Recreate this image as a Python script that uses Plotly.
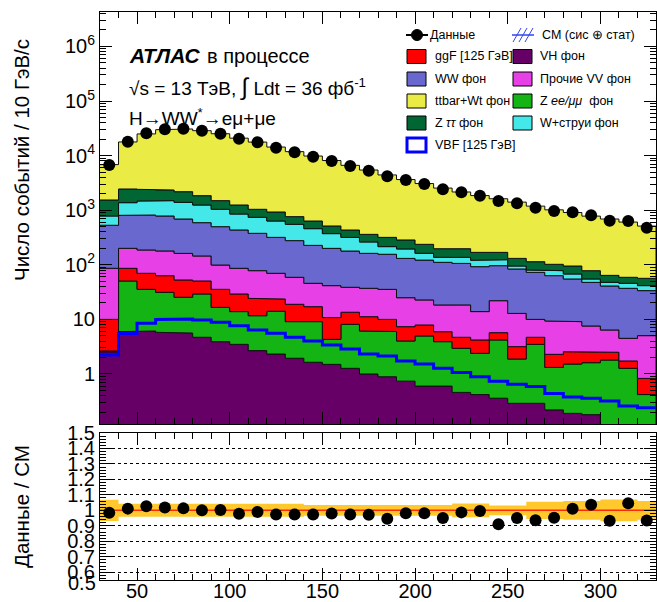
import numpy as np
import plotly.graph_objects as go

# ---------------- data ----------------
bin_edges = [30, 40, 50, 60, 70, 80, 90, 100, 110, 120, 130, 140, 150, 160, 170, 180,
             190, 200, 210, 220, 230, 240, 250, 260, 270, 280, 290, 300, 310, 320, 330]

data = [6730, 17980, 25600, 30300, 31100, 28600, 25200, 20400, 17500, 13960,
        11490, 9550, 7960, 6450, 5290, 4180, 3570, 3020, 2415, 2128,
        1845, 1474, 1337, 1112, 967, 916, 807, 643, 634, 478]

vh = [2.55, 5.96, 6.13, 5.8, 5.63, 4.7, 3.91, 3.49, 2.68, 2.32,
      1.94, 1.64, 1.50, 1.27, 1.0, 0.89, 0.74, 0.60, 0.60, 0.46,
      0.42, 0.36, 0.29, 0.29, 0.22, 0.19, 0.18, 0, 0, 0]
zll = [0.09, 44.5, 29.4, 25.5, 19.8, 24.5, 12.7, 10.4, 9.0, 11.8,
       7.16, 7.46, 2.81, 6.85, 5.13, 5.11, 3.28, 4.37, 3.31, 2.49,
       1.97, 3.84, 1.59, 3.2, 1.10, 1.33, 1.43, 1.80, 1.27, 0.42]
ggf = [7.36, 35.7, 34.3, 31.9, 27.3, 21.3, 18.9, 15.3, 12.6, 9.5,
       9.8, 8.0, 6.5, 5.4, 5.07, 4.0, 3.34, 2.93, 2.05, 1.75,
       1.81, 1.51, 1.29, 1.21, 0.97, 1.04, 0.92, 0.7, 0.46, 0.41]
vv = [76.2, 114, 117, 116, 109, 94.5, 63.5, 57, 53.8, 46.2,
      40.1, 28.7, 30.7, 25.2, 25.9, 25.5, 17.6, 14.8, 12.4, 13.7,
      9.7, 16.3, 9.7, 5.3, 7.06, 6.54, 5.04, 3.9, 2.77, 4.21]
ww = [443, 605, 630, 604, 528, 446, 400, 348, 299, 248,
      218, 181, 158.5, 140, 125, 120.5, 106, 99.3, 92.6, 87.6,
      78.5, 74.4, 70.9, 62.8, 53.9, 45.9, 40.1, 34.5, 32.6, 28.6]
wjets = [254, 569, 657, 713, 703, 654, 539, 417, 363, 316,
         274, 232, 172, 139, 100, 59, 64, 40, 26, 31,
         28.6, 27.6, 11.2, 7.5, 14.8, 12.9, 7.3, 6.8, 8.7, 7.9]
ztt = [755, 1071, 938, 848, 790, 600, 458, 394, 298, 293,
       211, 175, 142, 116, 99, 103, 90, 75, 60, 60,
       48, 45, 36, 33.7, 24, 27.1, 23, 16.3, 13.2, 15]
ttbar = [5300, 15335, 22520, 27420, 28520, 26755, 23650, 19615, 16650, 13420,
         11050, 9180, 7606, 6196, 5079, 4102, 3355, 2838, 2343, 1959,
         1683, 1451, 1275, 1073, 913, 811, 701, 625, 547, 455]
vbf = [2.23, 5.5, 8.47, 10, 10.2, 9.75, 8.84, 7.68, 6.4, 5.56,
       4.7, 4.02, 3.4, 2.87, 2.32, 2.14, 1.73, 1.52, 1.27, 1.06,
       0.89, 0.74, 0.65, 0.59, 0.44, 0.38, 0.36, 0.32, 0.26, 0.24]
syst_rel = [0.068, 0.042, 0.042, 0.042, 0.042, 0.042, 0.042, 0.042, 0.042, 0.042,
            0.042, 0.035, 0.035, 0.035, 0.035, 0.035, 0.035, 0.035, 0.035, 0.045,
            0.045, 0.032, 0.032, 0.055, 0.055, 0.06, 0.06, 0.07, 0.07, 0.06]

log_ticks = [1, 10, 100, 1e3, 1e4, 1e5, 1e6]
log_ticktext = ["1", "10", "10<sup>2</sup>", "10<sup>3</sup>", "10<sup>4</sup>",
                "10<sup>5</sup>", "10<sup>6</sup>"]
ratio_ticks = [0.6, 0.7, 0.8, 0.9, 1.0, 1.1, 1.2, 1.3, 1.4, 1.5]
ratio_ticktext = ["0.6", "0.7", "0.8", "0.9", "1", "1.1", "1.2", "1.3", "1.4", "1.5"]

layers = [
    ("VH фон", vh, "#660066"),
    ("Z ee/μμ фон", zll, "#14B414"),
    ("ggF [125 ГэВ]", ggf, "#FF0000"),
    ("Прочие VV фон", vv, "#E640E6"),
    ("WW фон", ww, "#6868CE"),
    ("W+струи фон", wjets, "#45E8E8"),
    ("Z ττ фон", ztt, "#006633"),
    ("ttbar+Wt фон", ttbar, "#EBEB46"),
]

# ---------------- geometry ----------------
W, H = 657, 602
FONT = "Liberation Sans, Arial, Helvetica, sans-serif"


def px(x):
    return x / W


def py(y):
    return 1 - y / H


edges = np.array(bin_edges, float)
centers = 0.5 * (edges[1:] + edges[:-1])


def steps(vals):
    xs = np.repeat(edges, 2)[1:-1]
    ys = np.repeat(np.asarray(vals, float), 2)
    return xs, ys


fig = go.Figure()

floor = 1e-3
cum = np.zeros(len(centers))
for name, vals, col in layers:
    lower = np.maximum(cum, floor)
    cum = cum + np.asarray(vals, float)
    upper = np.maximum(cum, floor)
    xs, yu = steps(upper)
    _, yl = steps(lower)
    fig.add_trace(go.Scatter(
        x=np.concatenate([xs, xs[::-1]]), y=np.concatenate([yu, yl[::-1]]),
        fill="toself", fillcolor=col, mode="lines",
        line=dict(color="#111111", width=1), xaxis="x", yaxis="y",
        hoverinfo="skip", showlegend=False, name=name))

total = cum.copy()

xs, yv = steps(vbf)
fig.add_trace(go.Scatter(x=xs, y=yv, mode="lines", line=dict(color="#0000FF", width=3),
                         xaxis="x", yaxis="y", showlegend=False, name="VBF"))

fig.add_trace(go.Scatter(x=centers, y=data, mode="markers",
                         marker=dict(color="black", size=12),
                         xaxis="x", yaxis="y", showlegend=False, name="Данные"))

# ratio panel
s = np.asarray(syst_rel)
xs, yup = steps(1 + s)
_, ydn = steps(1 - s)
fig.add_trace(go.Scatter(x=np.concatenate([xs, xs[::-1]]), y=np.concatenate([yup, ydn[::-1]]),
                         fill="toself", fillcolor="#FFC92E", mode="lines", line=dict(width=0),
                         xaxis="x2", yaxis="y2", showlegend=False, hoverinfo="skip"))
xs, y1 = steps(np.ones(len(centers)))
fig.add_trace(go.Scatter(x=xs, y=y1, mode="lines", line=dict(color="#FF2A00", width=1.5),
                         xaxis="x2", yaxis="y2", showlegend=False))
ratio = np.asarray(data, float) / total
fig.add_trace(go.Scatter(x=centers, y=ratio, mode="markers",
                         marker=dict(color="black", size=12),
                         xaxis="x2", yaxis="y2", showlegend=False))

axis_common = dict(showline=True, linecolor="black", linewidth=1, mirror="ticks",
                   ticks="inside", tickcolor="black", showgrid=False, zeroline=False,
                   automargin=False, tickfont=dict(family=FONT, size=20, color="black"))

minor_log = [k * 10.0 ** n for n in range(-1, 7) for k in range(2, 10)]

fig.update_layout(
    width=W, height=H, margin=dict(l=0, r=0, t=0, b=0),
    paper_bgcolor="white", plot_bgcolor="white",
    font=dict(family=FONT, color="black"),
    xaxis=dict(domain=[px(100), px(656)], anchor="y", range=[30, 330],
               showticklabels=False, tick0=0, dtick=50, ticklen=12,
               minor=dict(ticks="inside", dtick=10, tick0=0, ticklen=6, tickcolor="black"),
               **axis_common),
    yaxis=dict(domain=[py(424), py(12)], anchor="x", type="log", range=[-0.916, 6.63],
               tickmode="array", tickvals=log_ticks, ticktext=log_ticktext, ticklen=12,
               minor=dict(ticks="inside", tickmode="array", tickvals=minor_log, ticklen=6,
                          tickcolor="black"),
               **axis_common),
    xaxis2=dict(domain=[px(100), px(656)], anchor="y2", range=[30, 330], matches="x",
                tick0=0, dtick=50, ticklen=12, ticklabelstandoff=-7,
                minor=dict(ticks="inside", dtick=10, tick0=0, ticklen=6, tickcolor="black"),
                **axis_common),
    yaxis2=dict(domain=[py(580), py(433)], anchor="x2", range=[0.55, 1.5],
                tickmode="array", tickvals=ratio_ticks, ticktext=ratio_ticktext, ticklen=12,
                minor=dict(ticks="inside", dtick=0.02, tick0=0, ticklen=6, tickcolor="black"),
                **{k: v for k, v in axis_common.items() if k != "showgrid"},
                showgrid=True, gridcolor="black", griddash="dot", gridwidth=1),
)

ann = []
shapes = []


def text(x, y, t, size, xanchor="left", **kw):
    ann.append(dict(x=px(x), y=py(y), xref="paper", yref="paper", text=t, showarrow=False,
                    xanchor=xanchor, yanchor="middle",
                    font=dict(family=FONT, size=size, color="black"), **kw))


# axis titles
text(22, 160, "Число событий / 10 ГэВ/c", 20.5, xanchor="center", textangle=-90)
text(21, 507, "Данные / СМ", 20.5, xanchor="center", textangle=-90)
text(98, 583, "0.5", 20, xanchor="right")

# ATLAS label
text(127, 56, "<b><i>АТЛАС</i></b>", 21)
text(205, 56, "в процессе", 20)
text(127, 87, "√s = 13 ТэВ, <span style='font-size:24px'>∫</span> Ldt = 36 фб<sup>-1</sup>", 19)
text(127, 117, "H→WW<sup>*</sup>→eμ+μe", 19)

# legend
leg_font = 12.5


def box(x0, yc, col, line_col="black", lw=1):
    shapes.append(dict(type="rect", xref="paper", yref="paper",
                       x0=px(x0), x1=px(x0 + 19), y0=py(yc + 7), y1=py(yc - 7),
                       fillcolor=col, line=dict(color=line_col, width=lw)))


# data entry
shapes.append(dict(type="line", xref="paper", yref="paper", x0=px(406), x1=px(428),
                   y0=py(35), y1=py(35), line=dict(color="black", width=2)))
shapes.append(dict(type="circle", xref="paper", yref="paper", x0=px(411.5), x1=px(422.5),
                   y0=py(40.5), y1=py(29.5), fillcolor="black", line=dict(color="black", width=1)))
text(428, 35, "Данные", leg_font)
# SM uncertainty entry (hatched)
for x0 in (513, 519, 525):
    shapes.append(dict(type="line", xref="paper", yref="paper", x0=px(x0), x1=px(x0 + 8),
                       y0=py(42), y1=py(28), line=dict(color="#3344EE", width=1)))
shapes.append(dict(type="line", xref="paper", yref="paper", x0=px(512), x1=px(534),
                   y0=py(35), y1=py(35), line=dict(color="#3344EE", width=1.5)))
text(540, 35, "СМ (сис ⊕ стат)", leg_font)

legend_rows = [
    (56.5, ("ggF [125 ГэВ]", "#FF0000"), ("VH фон", "#660066")),
    (79, ("WW фон", "#6868CE"), ("Прочие VV фон", "#E640E6")),
    (101, ("ttbar+Wt фон", "#EBEB46"), ("Z <i>ee/μμ</i>  фон", "#14B414")),
    (123, ("Z <i>ττ</i> фон", "#006633"), ("W+струи фон", "#45E8E8")),
]
for yc, left, right in legend_rows:
    box(407, yc, left[1])
    text(433, yc, left[0], leg_font)
    box(513, yc, right[1])
    text(538, yc, right[0], leg_font)
box(407, 145, "white", line_col="#0000FF", lw=3)
text(433, 145, "VBF [125 ГэВ]", leg_font)

fig.update_layout(annotations=ann, shapes=shapes)

fig.write_html("out.html")
